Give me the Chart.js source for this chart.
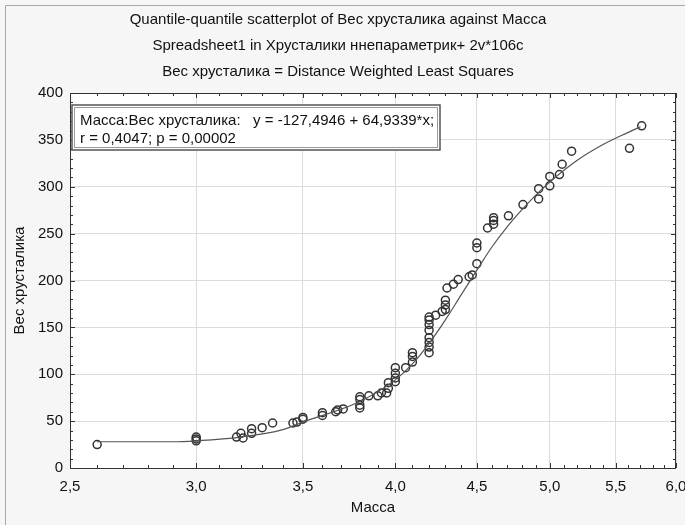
<!DOCTYPE html>
<html>
<head>
<meta charset="utf-8">
<script src="https://cdn.jsdelivr.net/npm/chart.js@4.4.1/dist/chart.umd.min.js"></script>
<style>
  html, body { margin: 0; padding: 0; background: #f6f6f6; }
  #wrap { width: 685px; height: 525px; position: relative; }
</style>
</head>
<body>
<div id="wrap"><canvas id="qq" width="685" height="525"></canvas></div>
<script>
// scatter points (Масса, Вес хрусталика)
const massValues = [
  2.6, 3.0, 3.0, 3.0, 3.18, 3.2, 3.21, 3.25, 3.25, 3.3, 3.35, 3.45, 3.47, 3.5, 3.5,
  3.6, 3.6, 3.67, 3.68, 3.71, 3.8, 3.8, 3.8, 3.8, 3.85, 3.9, 3.92, 3.95, 3.96, 3.96,
  4.0, 4.0, 4.0, 4.0, 4.06, 4.1, 4.1, 4.1,
  4.2, 4.2, 4.2, 4.2, 4.2, 4.2, 4.2, 4.2,
  4.24, 4.28, 4.3, 4.3, 4.3, 4.31, 4.35, 4.38, 4.45, 4.47,
  4.5, 4.5, 4.5, 4.57, 4.61, 4.61, 4.61, 4.71, 4.81, 4.92, 4.92,
  5.0, 5.0, 5.07, 5.09, 5.16, 5.61, 5.71
];
const weightValues = [
  25, 29, 31, 33, 33, 37, 32, 42, 37, 43, 48, 48, 49, 54, 52,
  59, 56, 60, 62, 63, 76, 73, 67, 64, 77, 77, 80, 80, 85, 91,
  96, 92, 101, 107, 107, 123, 119, 113,
  161, 158, 153, 147, 139, 134, 129, 123,
  163, 167, 179, 174, 169, 192, 196, 201, 204, 206,
  218, 235, 240, 256, 260, 264, 267, 269, 281, 287, 298,
  301, 311, 313, 324, 338, 341, 365
];

// distance weighted least squares curve
const curveMass   = [2.6, 2.9, 3.0, 3.2, 3.4, 3.5, 3.8, 4.0, 4.1, 4.2, 4.3, 4.4, 4.5, 4.6, 4.7, 4.8, 4.9, 5.0, 5.2, 5.4, 5.6, 5.7];
const curveWeight = [28, 28, 29, 33, 41, 49, 71, 94, 111, 133, 158, 185, 211, 236, 257, 275, 291, 305, 328, 345, 358, 364];

const xMajorTicks = [2.5, 3.0, 3.5, 4.0, 4.5, 5.0, 5.5, 6.0];
const yMajorTicks = [0, 50, 100, 150, 200, 250, 300, 350, 400];

const titleLines = [
  "Quantile-quantile scatterplot of Вес хрусталика against Масса",
  "Spreadsheet1 in Хрусталики ннепараметрик+ 2v*106c",
  "Вес хрусталика = Distance Weighted Least Squares"
];
const fitLines = [
  "Масса:Вес хрусталика:   y = -127,4946 + 64,9339*x;",
  "r = 0,4047; p = 0,00002"
];

const FONT = "'Liberation Sans', Arial, sans-serif";
const INK = '#111';

const points = massValues.map((m, i) => ({ x: m, y: weightValues[i] }));
const curve = curveMass.map((m, i) => ({ x: m, y: curveWeight[i] }));

// background, frame, small ticks and the fit box
const decor = {
  id: 'decor',
  beforeDraw(chart) {
    const { ctx, chartArea: a } = chart;
    ctx.save();
    ctx.fillStyle = '#f6f6f6';
    ctx.fillRect(0, 0, chart.width, chart.height);
    ctx.strokeStyle = '#a8a8a8';
    ctx.lineWidth = 1;
    ctx.beginPath();
    ctx.moveTo(5.5, chart.height); ctx.lineTo(5.5, 5.5); ctx.lineTo(chart.width, 5.5);
    ctx.stroke();
    ctx.fillStyle = '#ffffff';
    ctx.fillRect(a.left, a.top, a.right - a.left, a.bottom - a.top);
    ctx.restore();
  },
  afterDraw(chart) {
    const { ctx, chartArea: a } = chart;
    const xs = chart.scales.x, ys = chart.scales.y;
    ctx.save();
    ctx.strokeStyle = '#333';
    ctx.lineWidth = 1;
    ctx.strokeRect(a.left + 0.5, a.top + 0.5, a.right - a.left - 1, a.bottom - a.top);
    ctx.beginPath();
    for (let k = 25; k <= 60; k++) {
      const v = k / 10;
      const px = Math.round(xs.getPixelForValue(v)) + 0.5;
      const len = (k % 5 === 0) ? 5 : 3;
      ctx.moveTo(px, a.bottom); ctx.lineTo(px, a.bottom - len);
      ctx.moveTo(px, a.top); ctx.lineTo(px, a.top + len);
    }
    for (let v = 0; v <= 400; v += 10) {
      const py = Math.round(ys.getPixelForValue(v)) + 0.5;
      const len = (v % 50 === 0) ? 5 : 3;
      ctx.moveTo(a.left, py); ctx.lineTo(a.left + len, py);
      ctx.moveTo(a.right, py); ctx.lineTo(a.right - len, py);
    }
    ctx.stroke();

    // regression box
    const bx = 72, by = 105, bw = 368, bh = 45;
    ctx.fillStyle = '#ffffff';
    ctx.fillRect(bx, by, bw, bh);
    ctx.strokeStyle = '#555';
    ctx.lineWidth = 1.5;
    ctx.strokeRect(bx, by, bw, bh);
    ctx.strokeStyle = '#999';
    ctx.lineWidth = 1;
    ctx.strokeRect(bx + 2.5, by + 2.5, bw - 5, bh - 5);
    ctx.fillStyle = INK;
    ctx.font = '15px ' + FONT;
    ctx.textBaseline = 'alphabetic';
    ctx.fillText(fitLines[0], 80, 125);
    ctx.fillText(fitLines[1], 80, 143);
    ctx.restore();
  }
};

new Chart(document.getElementById('qq'), {
  type: 'scatter',
  data: {
    datasets: [
      {
        label: 'curve',
        type: 'line',
        data: curve,
        borderColor: '#555',
        borderWidth: 1.2,
        pointRadius: 0,
        fill: false,
        cubicInterpolationMode: 'monotone'
      },
      {
        label: 'Вес хрусталика',
        data: points,
        pointRadius: 4,
        pointBorderWidth: 1.5,
        borderColor: '#333',
        backgroundColor: 'rgba(0,0,0,0)'
      }
    ]
  },
  options: {
    responsive: false,
    animation: false,
    devicePixelRatio: 1,
    layout: { padding: { left: 0, right: 9, top: 0, bottom: 0 } },
    plugins: {
      legend: { display: false },
      tooltip: { enabled: false },
      title: {
        display: true,
        text: titleLines,
        color: INK,
        font: { family: FONT, size: 15, weight: 'normal', lineHeight: 26 / 15 },
        padding: { top: 7, bottom: 8 }
      }
    },
    scales: {
      x: {
        type: 'logarithmic',
        min: 2.5,
        max: 6,
        afterBuildTicks: s => { s.ticks = xMajorTicks.map(v => ({ value: v })); },
        afterFit: s => { s.height = 57; s.paddingLeft = 0; s.paddingRight = 0; },
        ticks: {
          callback: v => Number(v).toFixed(1).replace('.', ','),
          color: INK,
          font: { family: FONT, size: 15 },
          padding: 10,
          maxRotation: 0,
          autoSkip: false
        },
        grid: { color: '#dcdcdc', drawTicks: false },
        border: { display: false },
        title: {
          display: true,
          text: 'Масса',
          color: INK,
          font: { family: FONT, size: 15 },
          padding: { top: 4, bottom: 8 }
        }
      },
      y: {
        min: 0,
        max: 400,
        afterBuildTicks: s => { s.ticks = yMajorTicks.map(v => ({ value: v })); },
        afterFit: s => { s.width = 70; s.paddingTop = 0; s.paddingBottom = 0; },
        ticks: {
          color: INK,
          font: { family: FONT, size: 15 },
          padding: 7
        },
        grid: { color: '#dcdcdc', drawTicks: false },
        border: { display: false },
        title: {
          display: true,
          text: 'Вес хрусталика',
          color: INK,
          font: { family: FONT, size: 15 },
          padding: { top: 11, bottom: 4 }
        }
      }
    }
  },
  plugins: [decor]
});
</script>
</body>
</html>
